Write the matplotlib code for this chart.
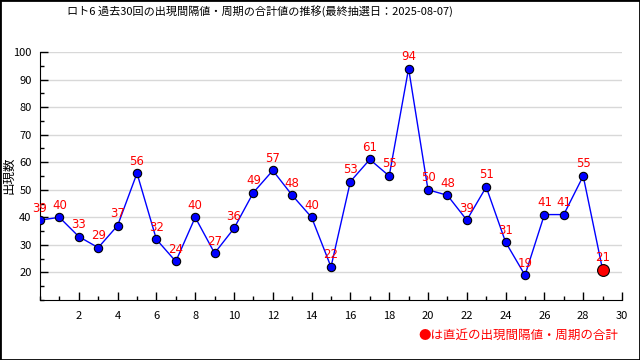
import matplotlib
matplotlib.use("Agg")
import matplotlib.pyplot as plt
from matplotlib.ticker import MultipleLocator
import numpy as np

plt.rcParams['font.family'] = ['Noto Sans CJK JP', 'DejaVu Sans']

# データ
kai = np.arange(30)
goukei = [39, 40, 33, 29, 37, 56, 32, 24, 40, 27, 36, 49, 57, 48, 40,
          22, 53, 61, 55, 94, 50, 48, 39, 51, 31, 19, 41, 41, 55, 21]
title = "ロト6 過去30回の出現間隔値・周期の合計値の推移(最終抽選日：2025-08-07)"
ylabel = "出現数"
note = "●は直近の出現間隔値・周期の合計"

fig = plt.figure(figsize=(6.4, 3.6), dpi=100)
ax = fig.add_axes([40/640, 1 - 300/360, 582/640, 248/360])

ax.plot(kai[:-1], goukei[:-1], color="blue", lw=1, marker="o", ms=6,
        mfc="blue", mec="black", mew=0.8, zorder=3)
ax.plot(kai[-2:], goukei[-2:], color="blue", lw=1, zorder=2)
ax.plot(kai[-1], goukei[-1], marker="o", ms=8.5, mfc="red", mec="black",
        mew=0.8, ls="none", zorder=4)

for x, y in zip(kai, goukei):
    ax.annotate(str(y), (x, y), xytext=(0, 4), textcoords="offset points",
                ha="center", va="bottom", color="red", fontsize=8.5,
                family="DejaVu Sans", zorder=5)

ax.set_xlim(0, 30)
ax.set_ylim(10, 100)
ax.xaxis.set_minor_locator(MultipleLocator(1))
ax.yaxis.set_minor_locator(MultipleLocator(5))
ax.set_xticks(np.arange(2, 31, 2))
ax.set_yticks(np.arange(20, 101, 10))
ax.tick_params(which="major", direction="in", length=6, width=1, labelsize=8, pad=8)
ax.tick_params(which="minor", direction="in", length=3, width=1)
ax.tick_params(axis="y", pad=6)
ax.grid(axis="y", color="#d8d8d8", lw=1, zorder=0)
ax.set_axisbelow(True)
for s in ["top", "right"]:
    ax.spines[s].set_visible(False)

fig.text(9/640, 1 - 175/360, ylabel, rotation=90, ha="center", va="center",
         fontsize=9)
fig.text(260/640, 1 - 11/360, title, ha="center", va="center", fontsize=8)
fig.text(618/640, 1 - 335/360, note, ha="right", va="center", fontsize=9,
         color="red")

fig.patches.append(plt.Rectangle((0, 0), 1, 1, transform=fig.transFigure,
                                 fill=False, ec="black", lw=2))

fig.savefig("out.png", dpi=100)
